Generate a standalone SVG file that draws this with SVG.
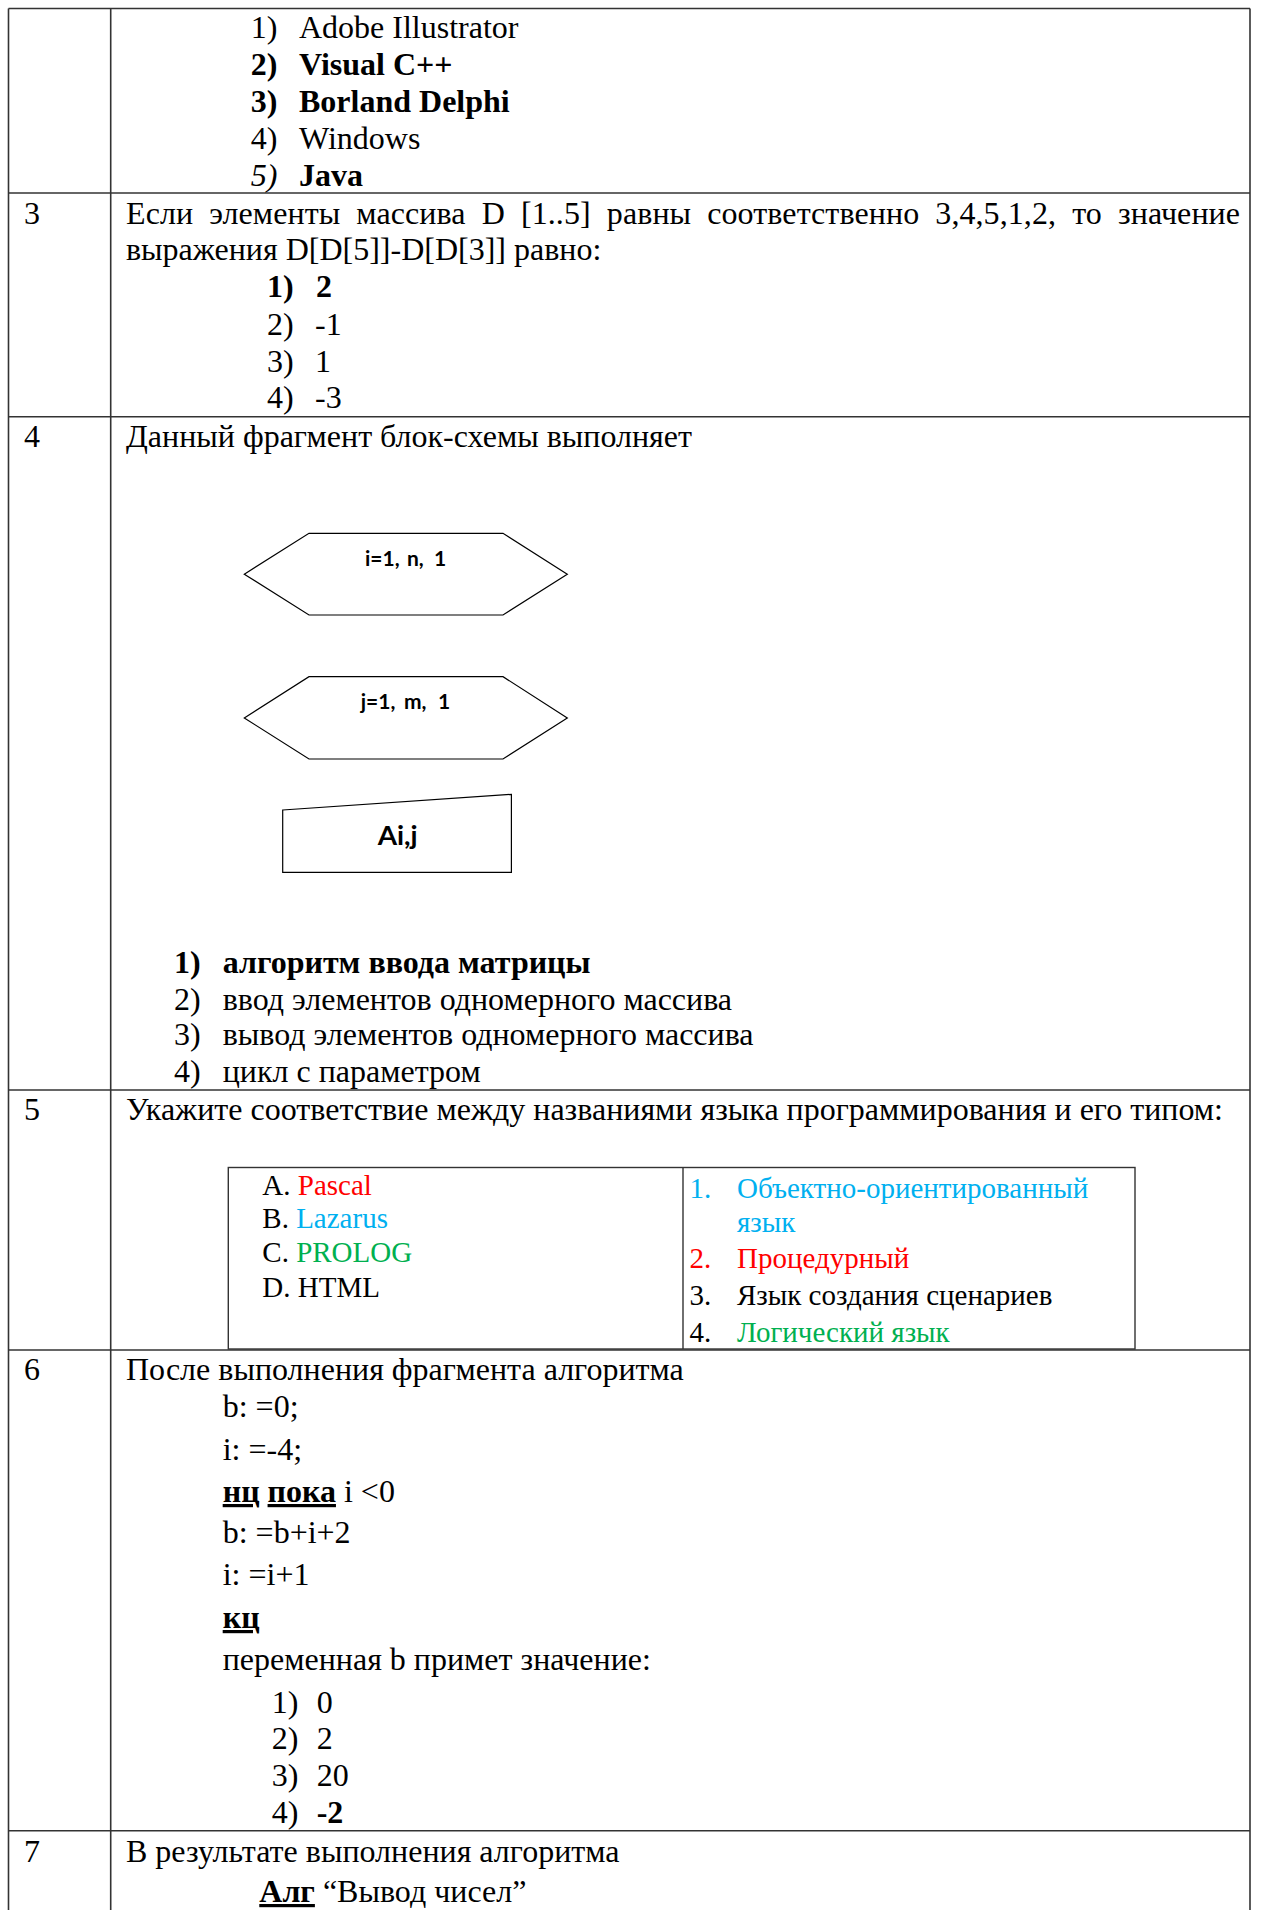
<svg xmlns="http://www.w3.org/2000/svg" width="1261" height="1910" viewBox="0 0 1261 1910">
<style>
  text { font-family: "Liberation Serif", "Times New Roman", serif; font-size: 32px; fill: #000; }
  .b { font-weight: bold; }
  .i { font-style: italic; }
  .u { text-decoration: underline; }
  .sm { font-size: 29px; }
  .red { fill: #FF0000; }
  .blue { fill: #00B0F0; }
  .green { fill: #00B050; }
  .grid { stroke: #333; stroke-width: 1.6; fill: none; }
  .shape { stroke: #000; stroke-width: 1.2; fill: #fff; }
  .fc { font-family: "Lato", "Open Sans", sans-serif; font-weight: bold; font-size: 21px; }
</style>
<rect width="1261" height="1910" fill="#fff"/>

<g id="connectors">
  <line class="grid" x1="8.5" y1="8.5" x2="1250" y2="8.5"/>
  <line class="grid" x1="8.5" y1="8.5" x2="8.5" y2="1910"/>
  <line class="grid" x1="110.7" y1="8.5" x2="110.7" y2="1910"/>
  <line class="grid" x1="1250" y1="8.5" x2="1250" y2="1910"/>
  <line class="grid" x1="8.5" y1="193" x2="1250" y2="193"/>
  <line class="grid" x1="8.5" y1="416.7" x2="1250" y2="416.7"/>
  <line class="grid" x1="8.5" y1="1090" x2="1250" y2="1090"/>
  <line class="grid" x1="8.5" y1="1350" x2="1250" y2="1350"/>
  <line class="grid" x1="8.5" y1="1830.7" x2="1250" y2="1830.7"/>
</g>

<g id="row-2">
  <text x="250.7" y="38">1)</text><text x="299" y="38">Adobe Illustrator</text>
  <text class="b" x="250.7" y="75">2)</text><text class="b" x="299" y="75">Visual C++</text>
  <text class="b" x="250.7" y="112">3)</text><text class="b" x="299" y="112">Borland Delphi</text>
  <text x="250.7" y="149">4)</text><text x="299" y="149">Windows</text>
  <text class="i" x="250.7" y="186">5)</text><text class="b" x="299" y="186">Java</text>
</g>

<g id="row-3">
  <text x="24" y="224">3</text>
  <text x="126" y="224" style="word-spacing:8px" textLength="1114" lengthAdjust="spacing">Если элементы массива D [1..5] равны соответственно 3,4,5,1,2, то значение</text>
  <text x="126" y="260">выражения D[D[5]]-D[D[3]] равно:</text>
  <text class="b" x="267" y="297">1)</text><text class="b" x="316" y="297">2</text>
  <text x="267" y="335">2)</text><text x="315" y="335">-1</text>
  <text x="267" y="372">3)</text><text x="315" y="372">1</text>
  <text x="267" y="408">4)</text><text x="315" y="408">-3</text>
</g>

<g id="row-4">
  <text x="24" y="447">4</text>
  <text x="126" y="447">Данный фрагмент блок-схемы выполняет</text>
  <text class="b" x="174" y="973">1)</text><text class="b" x="222.7" y="973">алгоритм ввода матрицы</text>
  <text x="174" y="1010">2)</text><text x="222.7" y="1010">ввод элементов одномерного массива</text>
  <text x="174" y="1045">3)</text><text x="222.7" y="1045">вывод элементов одномерного массива</text>
  <text x="174" y="1082">4)</text><text x="222.7" y="1082">цикл с параметром</text>
</g>

<g id="node-loop-i">
  <polygon class="shape" points="244.3,574.2 309,533.3 503,533.3 567.3,574.2 503,615 309,615"/>
  <text class="fc" y="566"><tspan x="365">i=1,</tspan><tspan x="407">n,</tspan><tspan x="434">1</tspan></text>
</g>
<g id="node-loop-j">
  <polygon class="shape" points="244.3,718 309,676.7 503,676.7 567.3,718 503,759 309,759"/>
  <text class="fc" y="709"><tspan x="360.7">j=1,</tspan><tspan x="404">m,</tspan><tspan x="438">1</tspan></text>
</g>
<g id="node-input">
  <polygon class="shape" points="282.7,810 511.4,794.3 511.4,872.3 282.7,872.3"/>
  <text class="fc" style="font-size:26px" x="377.7" y="845" textLength="40" lengthAdjust="spacingAndGlyphs">Ai,j</text>
</g>

<g id="row-5">
  <text x="24" y="1120">5</text>
  <text x="126" y="1120">Укажите соответствие между названиями языка программирования и его типом:</text>
  <rect class="grid" x="228.3" y="1167.5" width="906.7" height="181.5" style="stroke-width:1.4"/>
  <line class="grid" x1="683" y1="1167.5" x2="683" y2="1349" style="stroke-width:1.4"/>
  <text class="sm" x="262.3" y="1195">A. <tspan class="red">Pascal</tspan></text>
  <text class="sm" x="262.3" y="1228">B. <tspan class="blue">Lazarus</tspan></text>
  <text class="sm" x="262.3" y="1262">C. <tspan class="green">PROLOG</tspan></text>
  <text class="sm" x="262.3" y="1297">D. HTML</text>
  <text class="sm blue" x="689.5" y="1198">1.</text><text class="sm blue" x="737" y="1198">Объектно-ориентированный</text>
  <text class="sm blue" x="737" y="1232">язык</text>
  <text class="sm red" x="689.5" y="1268">2.</text><text class="sm red" x="737" y="1268">Процедурный</text>
  <text class="sm" x="689.5" y="1305">3.</text><text class="sm" x="737" y="1305">Язык создания сценариев</text>
  <text class="sm" x="689.5" y="1342">4.</text><text class="sm green" x="737" y="1342">Логический язык</text>
</g>

<g id="row-6">
  <text x="24" y="1380">6</text>
  <text x="126" y="1380">После выполнения фрагмента алгоритма</text>
  <text x="222.7" y="1417">b: =0;</text>
  <text x="222.7" y="1460">i: =-4;</text>
  <text x="222.7" y="1502"><tspan class="b u">нц</tspan> <tspan class="b u">пока</tspan> i &lt;0</text>
  <text x="222.7" y="1543">b: =b+i+2</text>
  <text x="222.7" y="1585">i: =i+1</text>
  <text class="b u" x="222.7" y="1628">кц</text>
  <text x="222.7" y="1670">переменная b примет значение:</text>
  <text x="271.7" y="1713">1)</text><text x="316.7" y="1713">0</text>
  <text x="271.7" y="1749">2)</text><text x="316.7" y="1749">2</text>
  <text x="271.7" y="1786">3)</text><text x="316.7" y="1786">20</text>
  <text x="271.7" y="1823">4)</text><text class="b" x="316.7" y="1823">-2</text>
</g>

<g id="row-7">
  <text x="24" y="1862">7</text>
  <text x="126" y="1862">В результате выполнения алгоритма</text>
  <text x="259.3" y="1902"><tspan class="b u">Алг</tspan> “Вывод чисел”</text>
</g>
</svg>
